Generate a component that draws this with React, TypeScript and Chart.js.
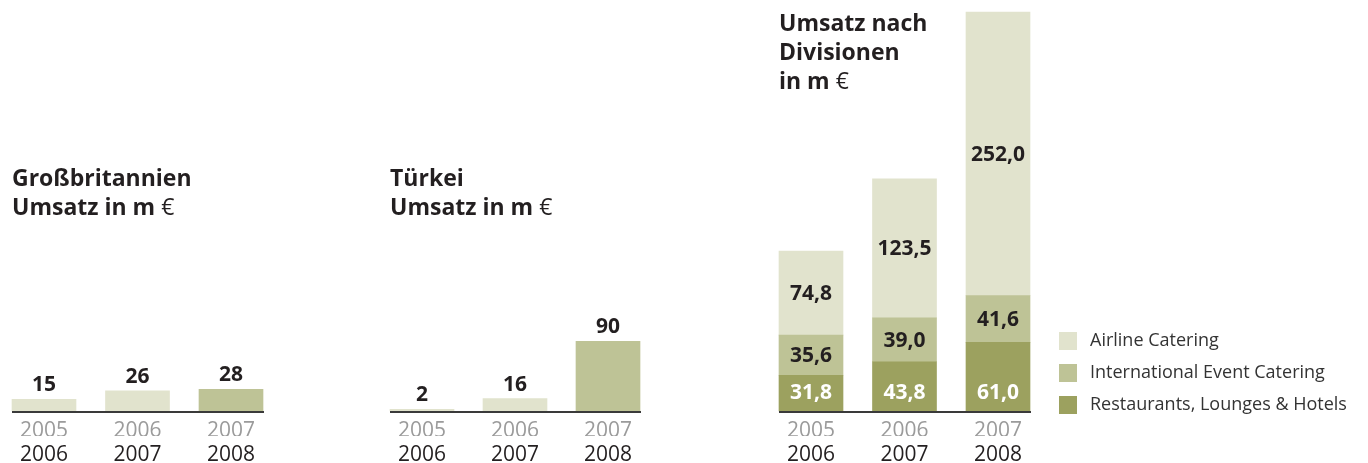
import React, { useEffect, useRef } from 'react';
import { Chart, registerables } from 'chart.js';
Chart.register(...registerables);

const yearsTop = ['2005', '2006', '2007'];
const yearsBottom = ['2006', '2007', '2008'];
const ukValues = [15, 26, 28];
const trValues = [2, 16, 90];
const airlineValues = [74.8, 123.5, 252.0];
const eventValues = [35.6, 39.0, 41.6];
const restaurantValues = [31.8, 43.8, 61.0];
const divisionLabels = ['Airline Catering', 'International Event Catering', 'Restaurants, Lounges & Hotels'];

const FONT = '"Open Sans", "DejaVu Sans", sans-serif';
const LIGHT = '#e1e3cd';
const MID = '#bec396';
const DARK = '#9ca15f';
const TEXT = '#231f20';
const GREY = '#9b9b9b';

const baselinePlugin = {
  id: 'baseline',
  afterDatasetsDraw(chart: any) {
    const ctx = chart.ctx;
    const bars = chart.getDatasetMeta(0).data;
    const first = bars[0];
    const last = bars[bars.length - 1];
    const y = chart.scales.y.getPixelForValue(0);
    ctx.save();
    ctx.strokeStyle = '#3a3a3a';
    ctx.lineWidth = 2;
    ctx.beginPath();
    ctx.moveTo(first.x - first.width / 2, y + 1);
    ctx.lineTo(last.x + last.width / 2 + 1, y + 1);
    ctx.stroke();
    ctx.restore();
  },
};

const simpleLabelPlugin = {
  id: 'simpleLabels',
  afterDatasetsDraw(chart: any) {
    const ctx = chart.ctx;
    const ds = chart.data.datasets[0];
    ctx.save();
    ctx.font = `bold 21px ${FONT}`;
    ctx.fillStyle = TEXT;
    ctx.textAlign = 'center';
    ctx.textBaseline = 'alphabetic';
    chart.getDatasetMeta(0).data.forEach((bar: any, i: number) => {
      ctx.fillText(String(ds.data[i]), bar.x, bar.y - 8);
    });
    ctx.restore();
  },
};

const stackLabelPlugin = {
  id: 'stackLabels',
  afterDatasetsDraw(chart: any) {
    const ctx = chart.ctx;
    ctx.save();
    ctx.font = `bold 21px ${FONT}`;
    ctx.textAlign = 'center';
    ctx.textBaseline = 'middle';
    chart.data.datasets.forEach((ds: any, di: number) => {
      chart.getDatasetMeta(di).data.forEach((bar: any, i: number) => {
        const txt = Number(ds.data[i]).toFixed(1).replace('.', ',');
        let y = (bar.y + bar.base) / 2 + 1;
        if (di === 0) {
          ctx.fillStyle = '#ffffff';
          y = bar.base - 18;
        } else {
          ctx.fillStyle = TEXT;
        }
        ctx.fillText(txt, bar.x, y);
      });
    });
    ctx.restore();
  },
};

const legendPlugin = {
  id: 'customLegend',
  afterDraw(chart: any) {
    const ctx = chart.ctx;
    const items = chart.data.datasets.slice().reverse();
    ctx.save();
    ctx.font = `18px ${FONT}`;
    ctx.textAlign = 'left';
    ctx.textBaseline = 'middle';
    items.forEach((ds: any, i: number) => {
      const cy = 341 + i * 32;
      ctx.fillStyle = ds.backgroundColor;
      ctx.fillRect(1059, cy - 9, 18, 18);
      ctx.fillStyle = '#333333';
      ctx.fillText(ds.label, 1090, cy);
    });
    ctx.restore();
  },
};

function xScales() {
  return {
    x: {
      type: 'category',
      position: 'bottom',
      offset: false,
      weight: 0,
      grid: { display: false, drawTicks: false },
      border: { display: false },
      ticks: { color: GREY, font: { family: FONT, size: 21 }, padding: 7, maxRotation: 0, autoSkip: false },
      afterFit: (s: any) => { s.height = 25; },
    },
    x2: {
      type: 'category',
      labels: yearsBottom,
      position: 'bottom',
      offset: false,
      weight: 1,
      grid: { display: false, drawTicks: false },
      border: { display: false },
      ticks: { color: TEXT, font: { family: FONT, size: 21 }, padding: 6, maxRotation: 0, autoSkip: false },
      afterFit: (s: any) => { s.height = 25; },
    },
  };
}

function simpleConfig(values: number[], padLeft: number, padRight: number): any {
  return {
    type: 'bar',
    data: {
      labels: yearsTop,
      datasets: [{
        data: values,
        backgroundColor: [LIGHT, LIGHT, MID],
        borderWidth: 0,
        barThickness: 64,
        clip: false,
      }],
    },
    options: {
      animation: false,
      responsive: false,
      devicePixelRatio: 1,
      events: [],
      layout: { padding: { left: padLeft, right: padRight, top: 256, bottom: 2 } },
      plugins: { legend: { display: false }, tooltip: { enabled: false }, title: { display: false } },
      scales: {
        ...xScales(),
        y: { display: false, min: 0, max: 200 },
      },
    },
    plugins: [baselinePlugin, simpleLabelPlugin],
  };
}

function stackConfig(): any {
  return {
    type: 'bar',
    data: {
      labels: yearsTop,
      datasets: [
        { label: divisionLabels[2], data: restaurantValues, backgroundColor: DARK, borderWidth: 0, barThickness: 64, clip: false },
        { label: divisionLabels[1], data: eventValues, backgroundColor: MID, borderWidth: 0, barThickness: 64, clip: false },
        { label: divisionLabels[0], data: airlineValues, backgroundColor: LIGHT, borderWidth: 0, barThickness: 64, clip: false },
      ],
    },
    options: {
      animation: false,
      responsive: false,
      devicePixelRatio: 1,
      events: [],
      layout: { padding: { left: 811, right: 1368 - 998, top: 6, bottom: 2 } },
      plugins: { legend: { display: false }, tooltip: { enabled: false }, title: { display: false } },
      scales: {
        ...xScales(),
        x: { ...xScales().x, stacked: true },
        y: { display: false, min: 0, max: 360, stacked: true },
      },
    },
    plugins: [baselinePlugin, stackLabelPlugin, legendPlugin],
  };
}

function ChartCanvas({ makeConfig }: { makeConfig: () => any }) {
  const ref = useRef<HTMLCanvasElement>(null);
  useEffect(() => {
    const chart = new Chart(ref.current as HTMLCanvasElement, makeConfig());
    return () => chart.destroy();
  }, []);
  return (
    <canvas
      ref={ref}
      width={1368}
      height={463}
      style={{ position: 'absolute', left: 0, top: 0, width: 1368, height: 463 }}
    />
  );
}

const titleStyle: React.CSSProperties = {
  position: 'absolute',
  fontFamily: FONT,
  fontWeight: 700,
  fontSize: 23,
  lineHeight: '29px',
  color: TEXT,
  whiteSpace: 'nowrap',
};

const euro = <span style={{ fontWeight: 400 }}>€</span>;

export default function App() {
  return (
    <div style={{ position: 'absolute', left: 0, top: 0, width: 1368, height: 463, background: '#ffffff', overflow: 'hidden' }}>
      <ChartCanvas makeConfig={() => simpleConfig(ukValues, 44, 1368 - 231)} />
      <ChartCanvas makeConfig={() => simpleConfig(trValues, 422, 1368 - 608)} />
      <ChartCanvas makeConfig={stackConfig} />
      <div style={{ ...titleStyle, left: 12, top: 163 }}>
        Großbritannien<br />Umsatz in m {euro}
      </div>
      <div style={{ ...titleStyle, left: 390, top: 163 }}>
        Türkei<br />Umsatz in m {euro}
      </div>
      <div style={{ ...titleStyle, left: 779, top: 8 }}>
        Umsatz nach<br />Divisionen<br />in m {euro}
      </div>
    </div>
  );
}
